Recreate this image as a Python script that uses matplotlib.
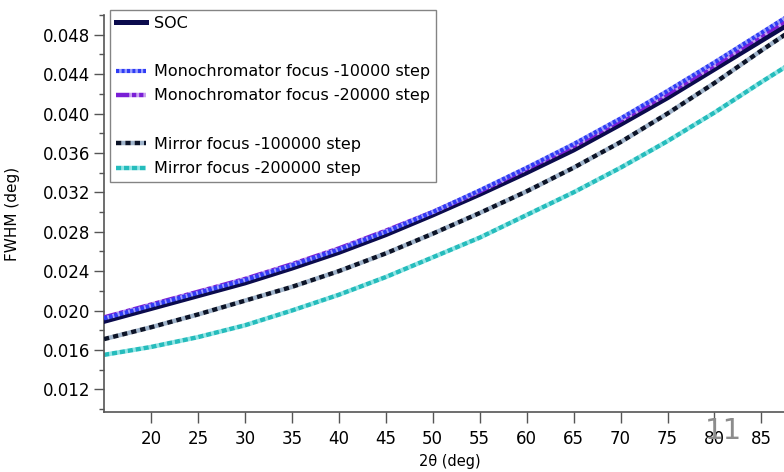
import matplotlib
matplotlib.use("Agg")
import matplotlib.pyplot as plt
from matplotlib.lines import Line2D
from matplotlib.ticker import MultipleLocator, FixedLocator, FormatStrFormatter

two_theta = [15, 20, 25, 30, 35, 40, 45, 50, 55, 60, 65, 70, 75, 80, 85, 90]
soc = [0.0189, 0.0202, 0.0215, 0.0228, 0.0243, 0.0259, 0.0277, 0.0297, 0.0318,
       0.0340, 0.0363, 0.0389, 0.0416, 0.0445, 0.0474, 0.0503]
mono_10000 = [0.0192, 0.0205, 0.0218, 0.0231, 0.0246, 0.0262, 0.0280, 0.0300, 0.0322,
              0.0345, 0.0369, 0.0395, 0.0423, 0.0452, 0.0482, 0.0512]
mono_20000 = [0.0193, 0.0206, 0.0219, 0.0232, 0.0247, 0.0263, 0.0281, 0.0300, 0.0321,
              0.0344, 0.0367, 0.0393, 0.0420, 0.0449, 0.0479, 0.0508]
mirror_100000 = [0.0171, 0.0183, 0.0196, 0.0210, 0.0224, 0.0240, 0.0258, 0.0278, 0.0299,
                 0.0321, 0.0345, 0.0371, 0.0400, 0.0431, 0.0464, 0.0496]
mirror_200000 = [0.0155, 0.0163, 0.0173, 0.0185, 0.0200, 0.0216, 0.0234, 0.0254, 0.0274,
                 0.0297, 0.0320, 0.0345, 0.0372, 0.0401, 0.0432, 0.0462]
x_ticks = [20, 25, 30, 35, 40, 45, 50, 55, 60, 65, 70, 75, 80, 85]

labels = ["SOC", "Monochromator focus -10000 step", "Monochromator focus -20000 step",
          "Mirror focus -100000 step", "Mirror focus -200000 step"]

fig = plt.figure(figsize=(7.84, 4.72), dpi=100)
ax = fig.add_axes([104 / 784, 1 - 412 / 472, 1 - 104 / 784, (412 - 15) / 472])

l5, = ax.plot(two_theta, mirror_200000, color="#25bcbc", lw=3.2, dashes=(1.2, 0.6),
              gapcolor="#8fe6e6", zorder=2)
l4, = ax.plot(two_theta, mirror_100000, color="#0c1428", lw=3.2, dashes=(1.2, 0.9),
              gapcolor="#9fb4cc", zorder=3)
l1, = ax.plot(two_theta, soc, color="#0b0b4d", lw=3.6, zorder=4)
l3, = ax.plot(two_theta, mono_20000, color="#7a1fd6", lw=3.2,
              dashes=(3, 0.6, 1, 0.6, 1, 0.6), gapcolor="#c9a0f0", zorder=5)
l2, = ax.plot(two_theta, mono_10000, color="#2f3cf5", lw=3.0, dashes=(0.8, 0.5),
              gapcolor="#9aa0ff", zorder=6)

ax.set_xlim(15, 87.4)
ax.set_ylim(0.0097, 0.0500)
ax.xaxis.set_major_locator(FixedLocator(x_ticks))
ax.yaxis.set_major_locator(MultipleLocator(0.004))
ax.yaxis.set_minor_locator(MultipleLocator(0.002))
ax.yaxis.set_major_formatter(FormatStrFormatter("%.3f"))
for s in ["top", "right"]:
    ax.spines[s].set_visible(False)
for s in ["left", "bottom"]:
    ax.spines[s].set_color("#555555")
    ax.spines[s].set_linewidth(1.2)
ax.tick_params(axis="both", which="major", direction="out", length=7, width=1.0,
               color="#555555", labelsize=12)
ax.tick_params(axis="y", which="major", pad=3)
ax.tick_params(axis="y", which="minor", direction="out", length=3.5, width=1.0, color="#555555")
ax.tick_params(axis="x", which="major", length=8, pad=5)

ax.set_ylabel("FWHM (deg)", fontsize=11)
ax.yaxis.set_label_coords(-(104 - 20) / (784 - 104), 0.5)
ax.set_xlabel("2θ (deg)", fontsize=10.5)
ax.xaxis.set_label_coords((450 - 104) / (784 - 104), -(454 - 412) / 397)

blank = Line2D([], [], color="none")
handles = [l1, blank, l2, l3, blank, l4, l5]
leg_labels = [labels[0], "", labels[1], labels[2], "", labels[3], labels[4]]
leg = fig.legend(handles, leg_labels, loc="upper left",
                 bbox_to_anchor=(110 / 784, 1 - 10 / 472), fontsize=11.5,
                 frameon=True, fancybox=False, handlelength=1.9, handletextpad=0.5,
                 labelspacing=0.58, borderpad=0.35, borderaxespad=0)
leg.get_frame().set_edgecolor("#666666")
leg.get_frame().set_linewidth(1.0)

fig.text(723 / 784, 1 - 431 / 472, "11", color="#8c8c8c", fontsize=21,
         ha="center", va="center")

fig.savefig("out.png", dpi=100)
